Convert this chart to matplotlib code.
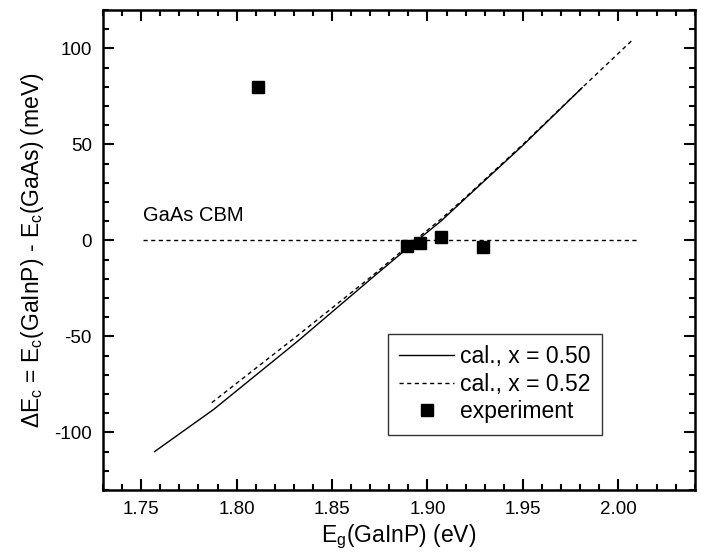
import matplotlib
matplotlib.use("Agg")
import matplotlib.pyplot as plt
from matplotlib.ticker import MultipleLocator, FormatStrFormatter

plt.rcParams['font.family'] = ['Liberation Sans', 'DejaVu Sans']
plt.rcParams['mathtext.fontset'] = 'custom'
plt.rcParams['mathtext.rm'] = 'Liberation Sans'
plt.rcParams['mathtext.it'] = 'Liberation Sans'
plt.rcParams['axes.unicode_minus'] = False

# calculated band offset, x = 0.50
eg_50 = [1.757, 1.788, 1.832, 1.871, 1.889, 1.907, 1.920, 1.950, 1.981]
dec_50 = [-110, -88, -52.5, -19.5, -4.5, 10, 22, 49.5, 79.5]

# calculated band offset, x = 0.52
eg_52 = [1.787, 1.832, 1.871, 1.889, 1.907, 1.920, 1.950, 1.981, 2.007]
dec_52 = [-84.5, -49.5, -18.5, -3.5, 11, 22.5, 50, 79.5, 104]

# experiment
eg_exp = [1.811, 1.889, 1.896, 1.907, 1.929]
dec_exp = [80, -3, -1.5, 2, -3.5]

# GaAs conduction band minimum
cbm_x = [1.751, 2.010]
cbm_y = [0, 0]

fig = plt.figure(figsize=(7.01, 5.54), dpi=100)
ax = fig.add_axes([0.147, 0.1155, 0.844, 0.8665])

ax.plot(cbm_x, cbm_y, color='black', lw=1.0, ls=(0, (3, 2.5)))
ax.plot(eg_50, dec_50, color='black', lw=1.0, label='cal., x = 0.50')
ax.plot(eg_52, dec_52, color='black', lw=1.0, ls=(0, (3, 2.5)), label='cal., x = 0.52')
ax.plot(eg_exp, dec_exp, 's', color='black', ms=8, label='experiment')

ax.text(1.751, 10, 'GaAs CBM', fontsize=14.5)

ax.set_xlim(1.73, 2.04)
ax.set_ylim(-130, 120)
ax.xaxis.set_major_locator(MultipleLocator(0.05))
ax.xaxis.set_minor_locator(MultipleLocator(0.01))
ax.yaxis.set_major_locator(MultipleLocator(50))
ax.yaxis.set_minor_locator(MultipleLocator(10))
ax.xaxis.set_major_formatter(FormatStrFormatter('%.2f'))
ax.tick_params(which='both', direction='in', top=True, right=True, width=1.5)
ax.tick_params(which='major', length=8, labelsize=13.5, pad=8)
ax.tick_params(which='minor', length=4)
for s in ax.spines.values():
    s.set_linewidth(1.8)

ax.set_xlabel(r'E$_\mathregular{g}$(GaInP) (eV)', fontsize=16.5, labelpad=3)
ax.set_ylabel(r'$\Delta$E$_\mathregular{c}$ = E$_\mathregular{c}$(GaInP) - E$_\mathregular{c}$(GaAs) (meV)',
              fontsize=16.5, labelpad=6)

leg = ax.legend(loc='lower right', bbox_to_anchor=(0.843, 0.115), borderaxespad=0,
                fontsize=16.5, frameon=True, fancybox=False, edgecolor='black',
                handlelength=2.4, handletextpad=0.25, labelspacing=0.2, borderpad=0.5)
leg.get_frame().set_linewidth(1.0)

fig.savefig('out.png', dpi=100)
